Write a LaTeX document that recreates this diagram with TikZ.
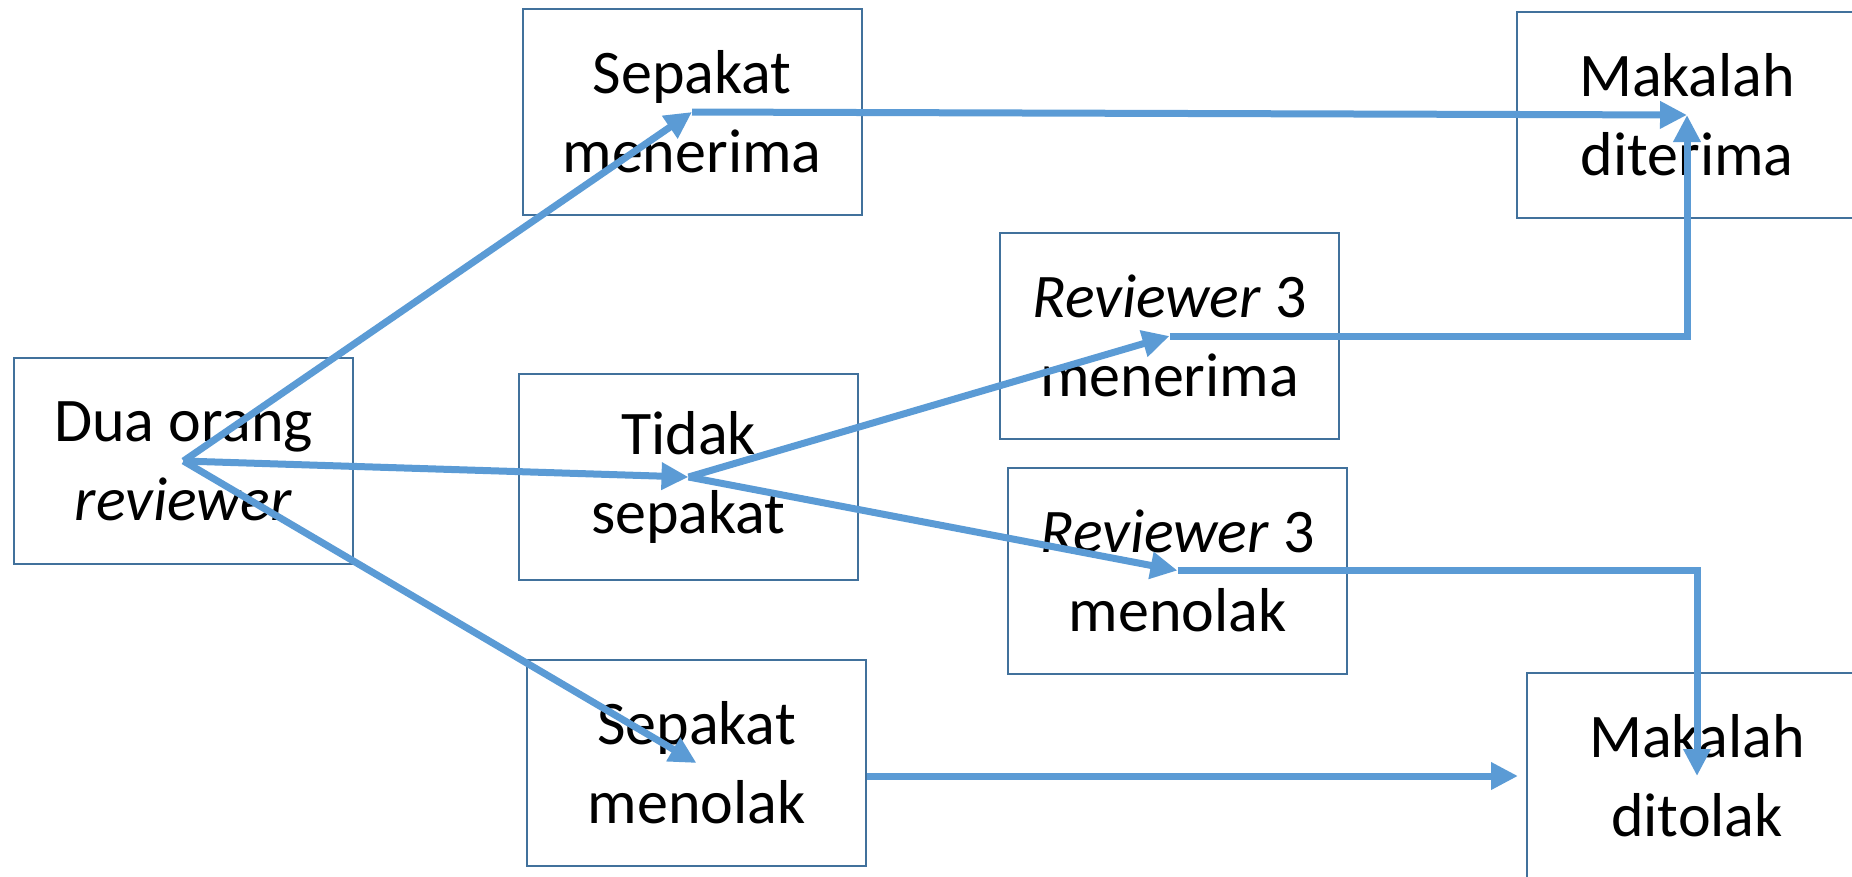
\documentclass[tikz,border=0pt]{standalone}
\usepackage{fontspec}
\setmainfont{Carlito}
\usepackage{tikz}
\usetikzlibrary{arrows.meta,positioning}
\definecolor{garis}{HTML}{5B9BD5}
\definecolor{tepi}{HTML}{41719C}

\begin{document}
\begin{tikzpicture}[on grid,
	kotak/.style={draw=tepi, line width=2pt, minimum width=339pt, minimum height=206pt, inner sep=0pt, align=center, font=\fontsize{62}{79}\selectfont},
	panah/.style={color=garis, line width=7pt, -{Triangle[length=27pt,width=26pt]}}] 
			\useasboundingbox (0,0) rectangle (1852pt,-876pt);
			\clip (0,0) rectangle (1852pt,-876pt);
			\node[kotak] (dua) at (183.5pt,-461pt) {Dua orang\\\textit{reviewer}}; 
			\node[kotak] (terima2) [above right=349pt and 508.5pt of dua] {Sepakat\\menerima}; 
			\node[kotak] (tidak) [below right=16pt and 505pt of dua] {Tidak\\sepakat}; 
			\node[kotak] (tolak2) [below right=302pt and 513pt of dua] {Sepakat\\menolak}; 
			\node[kotak] (r3terima) [above right=141pt and 481pt of tidak] {\textit{Reviewer} 3\\menerima}; 
			\node[kotak] (r3tolak) [below right=93.5pt and 489pt of tidak] {\textit{Reviewer} 3\\menolak}; 
			\node[kotak, minimum width=340pt] (diterima) [below right=3pt and 995pt of terima2] {Makalah\\diterima}; 
			\node[kotak, minimum width=340pt] (ditolak) [below right=13pt and 1000.5pt of tolak2] {Makalah\\ditolak}; 
			\path[panah] 
			(dua.center) edge (terima2.center)
			edge (tidak.center)
			edge (tolak2.center)
			(tidak.center) edge (r3terima.center)
			edge (r3tolak.center)
			(terima2.center) edge (diterima.center)
			(tolak2.east |- ditolak.west) edge [shorten >=8pt] (ditolak.west);
			\draw[panah] (r3terima.center) -| (diterima.center);
			\draw[panah] (r3tolak.center) -| (ditolak.center);
		\end{tikzpicture}
\end{document}
